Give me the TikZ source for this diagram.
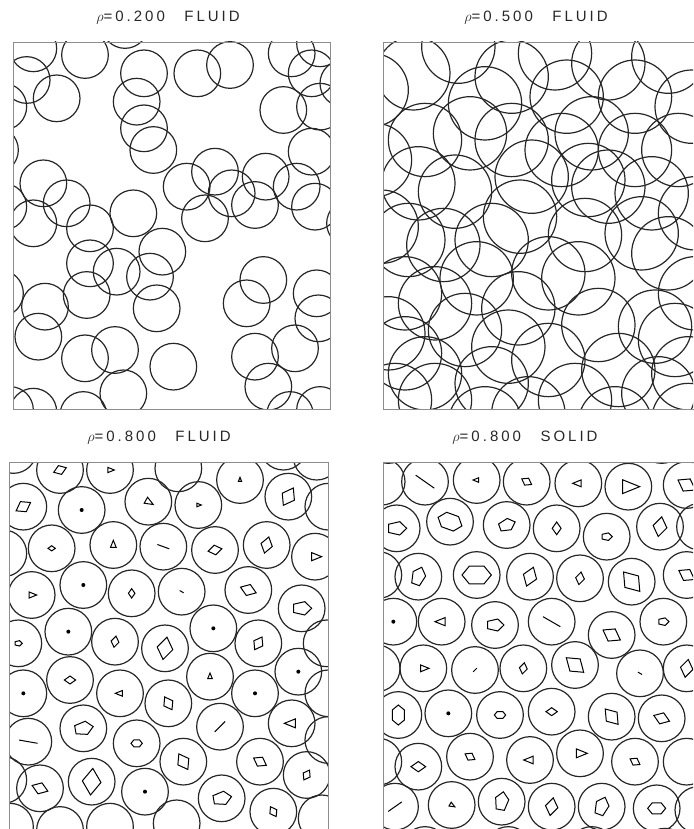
\documentclass[tikz,border=0pt]{standalone}
\usepackage{fontspec}
\newfontfamily\plotfont[LetterSpace=20]{Liberation Sans}

\tikzset{
  particle/.style={line width=1.2pt, black!85},
  cell/.style={line width=1pt, black},
  frame/.style={line width=0.7pt, black!45},
  title/.style={font=\plotfont\fontsize{15}{15}\selectfont, text=black!85}
}

\begin{document}
\begin{tikzpicture}[x=1pt,y=-1pt]
    \useasboundingbox (0,0) rectangle (693,829);

    % Titles
    \node[title] (tlow) at (168,17.5) {$\rho$=0.200\hspace{1.3em}FLUID};
    \node[title] (tmid) at (536,17.5) {$\rho$=0.500\hspace{1.3em}FLUID};
    \node[title] (tfluid) at (159,438) {$\rho$=0.800\hspace{1.3em}FLUID};
    \node[title] (tsolid) at (525,438) {$\rho$=0.800\hspace{1.3em}SOLID};

    % rho = 0.200 fluid (top left)
    \begin{scope}
        \clip (13,42) rectangle (330,409);
        \begin{scope}[shift={(0,40)}, scale=1/3]
            \foreach \x/\y in {100/25, 80/120, 10/200, 170/175, 255/45, 375/-45, 432/100, 410/185, 432/265, 460/330,
                592/100, 690/75, 850/210, 875/40, 935/100, 960/10, 1030/130, 960/200, 935/335,
                130/430, 200/490, 100/550, 10/500, 270/565, 400/520, 560/440, 645/395, 695/460, 615/535,
                765/495, 797/410, 890/440, 945/500, -15/330, 1050/550,
                270/670, 350/695, 450/710, 487/635, 470/805, 260/765, 135/800, 115/890, 0/760,
                255/955, 345/930, 370/1060, 520/980, 100/1115, 250/1125, 30/1110,
                790/720, 740/790, 950/760, 955/835, 885/925, 765/950, 805/1040, 870/1125, 960/1110}
                \draw[particle] (\x,\y) circle (70);
        \end{scope}
    \end{scope}
    \draw[frame] (13,42) rectangle (330,409);

    % rho = 0.500 fluid (top right)
    \begin{scope}
        \clip (383,42) rectangle (693,409);
        \begin{scope}[shift={(375,40)}, scale=1/3]
            \foreach \x/\y in {-10/150, 115/100, 250/20, 410/110, 540/40, 575/170, 700/70, 780/170, 880/50, 950/200,
                0/360, 130/430, 240/455, 285/280, 410/300, 470/410, 650/280, 700/440, 830/460, 910/330,
                20/560, 205/615, 435/530, 630/585, 880/640, 960/520, 100/600,
                90/760, 305/715, 430/805, 610/715, 670/855, 840/860, 960/760, 180/790,
                90/940, 270/870, 520/960, 730/990, 940/1000, 400/920,
                60/1080, 180/1080, 350/1030, 460/1120, 600/1080, 850/1060, 330/1150, 720/1150, 940/1140,
                330/190, 150/300, 560/330, 780/330, 640/420, 350/600, 800/580, 520/700, 40/880, 900/900, 150/1000}
                \draw[particle] (\x,\y) circle (110);
        \end{scope}
    \end{scope}
    \draw[frame] (383,42) rectangle (700,409);

    % rho = 0.800 fluid (bottom left)
    \begin{scope}
        \clip (9,462) rectangle (328,829);
        \begin{scope}[shift={(0,460)}, scale=1/3]
            \foreach \x/\y in {535/25, 985/140, 10/280, 980/550, 985/700, 985/840, 10/960, 30/1100, 180/1110,
                330/1100, 530/1090, 965/1075, 40/-30, 850/-40, 950/-10}
                \draw[particle] (\x,\y) circle (70);
            \foreach \x/\y/\k/\s/\a in {180/30/4/20/20, 330/30/3/13/0, 720/60/3/8/90, 865/110/4/30/60,
                70/140/4/25/30, 245/150/1/0/0, 445/125/3/17/-30, 595/135/3/9/0,
                155/265/4/11/0, 340/255/3/14/90, 490/260/2/19/-20, 645/270/4/21/10, 800/255/4/25/75, 945/290/3/20/0,
                95/405/3/15/0, 250/375/1/0/0, 395/400/4/14/90, 545/395/2/7/-30, 745/390/4/25/-20, 905/445/5/30/0,
                205/515/1/0/0, 345/545/4/17/80, 495/565/4/34/80, 640/505/1/0/0, 775/550/4/22/60, 55/550/5/12/0,
                210/660/4/17/0, 360/700/3/14/180, 630/650/3/11/90, 70/700/1/0/0, 505/730/4/22/-60, 765/700/1/0/0,
                895/635/1/0/0, 250/805/5/30/10, 410/850/6/17/0, 660/800/2/22/45, 875/790/3/22/180, 85/845/2/28/-10,
                550/905/4/27/-60, 780/905/4/22/-30, 920/945/4/17/60, 120/985/4/25/-20, 275/965/4/40/85,
                435/995/1/0/0, 665/1015/5/30/10, 820/1055/4/17/-60}
            {
                \draw[particle] (\x,\y) circle (70);
                \ifnum\k=1
                    \fill[shift={(\x,\y)}] (0,0) circle (6);
                \else
                    \draw[cell, shift={(\x,\y)}, rotate=\a, yscale=0.7] (0:\s)
                        \foreach \i in {1,...,\k} { -- (\i*360/\k:\s) } -- cycle;
                \fi
            }
        \end{scope}
    \end{scope}
    \draw[frame] (9,462) rectangle (328,835);

    % rho = 0.800 solid (bottom right)
    \begin{scope}
        \clip (383,462) rectangle (693,829);
        \begin{scope}[shift={(375,460)}, scale=1/3]
            \foreach \x/\y in {20/65, 975/200, 10/345, 5/625, 10/905, 935/905, 970/1050, 40/-60, 530/-70, 860/-60,
                150/1170, 400/1170, 650/1170, 870/1175}
                \draw[particle] (\x,\y) circle (70);
            \foreach \x/\y/\k/\s/\a in {150/65/2/34/-35, 305/60/3/11/180, 455/65/4/17/-30, 610/70/3/17/180,
                760/80/3/34/0, 935/75/4/30/-30,
                65/205/5/30/0, 225/185/6/38/-20, 395/195/5/27/20, 545/205/4/19/90, 695/230/5/17/0, 855/200/4/30/80,
                130/350/5/30/70, 305/345/6/44/0, 465/350/4/30/70, 615/355/4/19/80, 770/365/4/38/-50, 935/345/4/27/-30,
                55/485/1/0/0, 200/485/3/20/180, 360/495/5/27/0, 530/485/2/30/-30, 710/525/4/30/-30, 865/485/5/17/0,
                145/625/3/17/0, 300/630/2/8/45, 445/625/4/17/80, 600/615/4/34/-40, 795/640/2/7/-30, 935/625/4/27/80,
                70/765/6/30/90, 220/760/1/0/0, 375/765/6/17/0, 530/755/4/17/0, 710/770/4/30/-50, 860/775/4/25/-20,
                130/920/4/22/0, 285/890/4/17/-30, 465/900/3/19/180, 615/880/3/22/0, 780/905/4/17/-30,
                60/1040/2/25/35, 230/1035/3/11/-30, 380/1025/5/30/80, 530/1040/4/27/80, 680/1040/5/30/70, 845/1045/6/27/0}
            {
                \draw[particle] (\x,\y) circle (70);
                \ifnum\k=1
                    \fill[shift={(\x,\y)}] (0,0) circle (6);
                \else
                    \draw[cell, shift={(\x,\y)}, rotate=\a, yscale=0.7] (0:\s)
                        \foreach \i in {1,...,\k} { -- (\i*360/\k:\s) } -- cycle;
                \fi
            }
        \end{scope}
    \end{scope}
    \draw[frame] (383,462) rectangle (700,835);
\end{tikzpicture}
\end{document}
